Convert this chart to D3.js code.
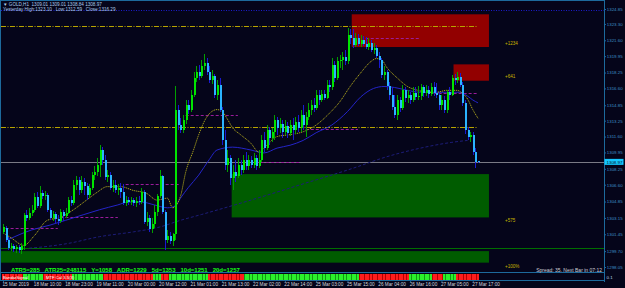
<!DOCTYPE html>
<html>
<head>
<meta charset="utf-8">
<script src="https://cdn.jsdelivr.net/npm/d3@7"></script>
<style>
  body { margin: 0; background: #05051a; overflow: hidden; }
  svg { display: block; }
  text { font-family: 'Liberation Sans', sans-serif; white-space: pre; }
</style>
</head>
<body>
<div id="container"></div>
<script>
const BG = '#05051a'
const FRAME = '#1d6a9c'
const BULL = '#00e400', BULL_WICK = '#00a000'
const BEAR = '#2bb4ff', BEAR_WICK = '#1a1ad0'

// GOLD H1, one value per bar (oldest first)
const opens = [1301.7,1302.1,1300.9,1300.0,1300.2,1299.9,1300.1,1299.8,1300.2,1303.5,
  1303.1,1303.7,1304.0,1305.3,1304.4,1305.7,1305.4,1305.5,1304.0,1303.1,
  1303.6,1303.0,1302.8,1303.8,1303.3,1303.7,1305.0,1304.7,1306.6,1307.1,
  1306.0,1306.9,1306.5,1305.5,1306.3,1307.6,1307.9,1308.6,1310.2,1309.2,
  1307.4,1307.6,1306.3,1306.6,1306.0,1306.3,1305.8,1304.7,1305.0,1304.8,
  1305.0,1304.7,1304.9,1304.8,1305.8,1302.7,1303.1,1302.0,1302.5,1303.8,
  1305.4,1307.5,1303.8,1300.9,1301.3,1300.7,1301.5,1314.4,1312.8,1312.3,
  1313.3,1314.9,1314.4,1315.9,1317.7,1318.3,1317.9,1318.9,1319.2,1318.3,
  1317.5,1317.9,1315.9,1317.0,1314.4,1311.2,1308.6,1309.4,1307.3,1307.9,
  1307.5,1308.6,1308.1,1309.2,1308.5,1309.2,1308.6,1309.4,1308.5,1309.2,
  1311.2,1310.4,1312.3,1311.4,1312.1,1313.3,1312.5,1312.9,1312.1,1312.7,
  1312.0,1312.8,1312.3,1313.1,1312.5,1313.8,1312.8,1313.6,1314.4,1314.9,
  1314.6,1315.9,1315.4,1316.0,1315.6,1317.0,1316.7,1319.0,1317.7,1319.4,
  1319.6,1319.9,1319.4,1322.2,1321.8,1321.1,1321.8,1321.2,1321.6,1321.2,
  1320.9,1321.3,1320.6,1320.8,1320.0,1319.6,1318.0,1318.3,1316.8,1315.9,
  1314.7,1313.8,1315.4,1314.6,1316.4,1315.6,1315.9,1315.4,1316.1,1315.7,
  1315.8,1316.7,1316.1,1316.4,1316.0,1316.7,1316.1,1315.9,1314.9,1315.4,
  1314.4,1316.2,1315.9,1317.7,1317.5,1317.8,1317.0,1315.1,1312.3,1311.6,
  1311.8,1310.0,1309.01]
const highs = [1302.5,1302.3,1301.2,1300.5,1300.4,1300.3,1300.3,1300.5,1303.7,1304.0,
  1304.2,1304.5,1305.7,1305.8,1306.5,1306.0,1305.9,1305.7,1304.2,1303.9,
  1303.8,1303.5,1304.1,1304.0,1304.2,1305.3,1305.4,1307.1,1307.5,1307.4,
  1307.5,1307.3,1306.8,1306.7,1307.9,1308.5,1309.4,1310.7,1310.5,1309.7,
  1308.1,1307.9,1307.1,1307.1,1306.7,1306.8,1306.7,1305.4,1305.3,1305.3,
  1305.2,1305.3,1305.4,1306.3,1306.0,1303.8,1303.5,1303.1,1304.5,1305.6,
  1308.1,1307.6,1304.0,1301.9,1301.7,1301.6,1316.8,1314.9,1313.5,1313.8,
  1315.4,1315.4,1316.4,1318.3,1318.9,1319.0,1319.6,1320.2,1319.8,1318.9,
  1318.5,1318.1,1317.5,1317.7,1314.7,1312.3,1310.2,1309.7,1308.6,1309.2,
  1309.4,1309.2,1309.7,1310.0,1309.7,1309.6,1309.9,1309.7,1310.2,1311.8,
  1312.1,1312.8,1312.6,1312.5,1313.8,1313.6,1313.5,1313.3,1313.3,1313.1,
  1313.3,1313.5,1313.6,1313.8,1314.4,1314.9,1314.2,1315.1,1315.4,1315.6,
  1316.4,1316.4,1316.4,1316.4,1317.5,1317.5,1319.8,1319.4,1319.9,1320.1,
  1320.4,1320.6,1322.9,1322.8,1322.8,1322.4,1322.3,1322.2,1322.0,1321.9,
  1321.8,1321.6,1321.3,1321.1,1320.4,1319.8,1318.9,1318.5,1317.3,1316.7,
  1315.9,1315.9,1315.7,1317.0,1316.7,1316.4,1316.2,1316.7,1316.7,1316.9,
  1317.1,1317.0,1317.0,1316.9,1317.2,1317.3,1317.2,1316.2,1315.9,1315.8,
  1316.4,1316.7,1318.0,1318.1,1318.3,1318.2,1317.3,1315.4,1312.6,1312.1,
  1312.1,1310.4,1309.01]
const lows = [1301.5,1300.6,1299.8,1299.7,1299.6,1299.5,1299.5,1299.4,1299.8,1302.8,
  1302.9,1303.3,1303.8,1304.2,1304.2,1305.1,1305.0,1303.8,1302.9,1302.8,
  1302.6,1302.4,1302.6,1302.8,1303.1,1303.6,1304.4,1304.5,1306.0,1305.5,
  1305.7,1305.5,1305.0,1305.2,1306.0,1307.1,1307.5,1307.4,1308.6,1307.1,
  1306.9,1306.0,1305.8,1305.7,1305.5,1305.2,1304.5,1304.4,1304.5,1304.5,
  1304.4,1304.3,1304.5,1304.6,1302.5,1302.3,1301.7,1301.6,1302.1,1303.3,
  1305.2,1303.6,1299.8,1300.5,1300.4,1300.2,1300.9,1312.3,1312.0,1312.0,
  1312.9,1313.9,1314.2,1315.7,1317.3,1317.5,1317.7,1318.5,1318.0,1317.2,
  1317.1,1315.6,1315.4,1314.2,1310.7,1308.1,1307.9,1306.6,1306.0,1306.9,
  1307.3,1307.6,1307.8,1308.1,1308.1,1308.3,1308.3,1308.1,1308.3,1309.0,
  1310.0,1310.2,1310.7,1311.0,1311.2,1311.8,1312.0,1311.4,1311.8,1311.4,
  1311.7,1311.2,1311.9,1312.1,1312.1,1312.3,1311.6,1313.3,1313.8,1314.2,
  1314.4,1314.9,1315.2,1315.4,1315.5,1316.2,1316.4,1317.3,1317.5,1318.7,
  1318.5,1319.0,1319.1,1321.2,1320.8,1320.9,1321.0,1320.9,1321.0,1320.7,
  1320.6,1320.4,1320.2,1319.8,1318.7,1317.7,1317.5,1316.4,1315.4,1314.4,
  1313.5,1313.3,1314.2,1314.4,1315.2,1315.1,1315.0,1315.2,1315.4,1315.4,
  1315.4,1315.7,1315.8,1315.6,1315.8,1315.8,1315.6,1314.4,1314.4,1314.0,
  1314.0,1315.4,1315.8,1317.0,1317.2,1316.7,1314.8,1311.9,1311.2,1311.0,
  1309.7,1308.3,1308.84]
const closes = [1302.2,1300.9,1300.0,1300.2,1299.9,1300.1,1299.8,1300.2,1303.5,1303.1,
  1303.7,1304.0,1305.3,1304.4,1305.7,1305.4,1305.5,1304.0,1303.1,1303.6,
  1303.0,1302.8,1303.8,1303.3,1303.7,1305.0,1304.7,1306.6,1307.1,1306.0,
  1306.9,1306.5,1305.5,1306.3,1307.6,1307.9,1308.6,1310.2,1309.2,1307.4,
  1307.6,1306.3,1306.6,1306.0,1306.3,1305.8,1304.7,1305.0,1304.8,1305.0,
  1304.7,1304.9,1304.8,1305.8,1302.7,1303.1,1302.0,1302.5,1303.8,1305.4,
  1307.5,1303.8,1300.9,1301.3,1300.7,1301.5,1314.4,1312.8,1312.3,1313.3,
  1314.9,1314.4,1315.9,1317.7,1318.3,1317.9,1318.9,1319.2,1318.3,1317.5,
  1317.9,1315.9,1317.0,1314.4,1311.2,1308.6,1309.4,1307.3,1307.9,1307.5,
  1308.6,1308.1,1309.2,1308.5,1309.2,1308.6,1309.4,1308.5,1309.2,1311.2,
  1310.4,1312.3,1311.4,1312.1,1313.3,1312.5,1312.9,1312.1,1312.7,1312.0,
  1312.8,1312.3,1313.1,1312.5,1313.8,1312.8,1313.6,1314.4,1314.9,1314.6,
  1315.9,1315.4,1316.0,1315.6,1317.0,1316.7,1319.0,1317.7,1319.4,1319.6,
  1319.9,1319.4,1322.2,1321.8,1321.1,1321.8,1321.2,1321.6,1321.2,1320.9,
  1321.3,1320.6,1320.8,1320.0,1319.6,1318.0,1318.3,1316.8,1315.9,1314.7,
  1313.8,1315.4,1314.6,1316.4,1315.6,1315.9,1315.4,1316.1,1315.7,1315.8,
  1316.7,1316.1,1316.4,1316.0,1316.7,1316.1,1315.9,1314.9,1315.4,1314.4,
  1316.2,1315.9,1317.7,1317.5,1317.8,1317.0,1315.1,1312.3,1311.6,1311.8,
  1310.0,1309.0,1308.97]

// moving averages at sample bars
const fastIdx = [0,3,8,12,17,22,27,32,36,40,45,50,55,59,63,65,68,70,73,75,78,80,82,84,86,88,91,95,98,100,
  105,110,115,120,125,129,133,137,141,143,145,147,151,155,159,163,166,170,174,176,178,180,182]
const fastVal = [1301.6,1301.1,1300.3,1301.3,1302.9,1303.2,1304.0,1305.0,1305.8,1306.4,1306.4,1306.0,1305.7,1305.0,1305.2,
  1304.2,1305.4,1307.9,1310.2,1311.8,1313.6,1314.2,1314.4,1314.2,1313.4,1312.5,1311.8,1310.9,1310.0,1310.4,
  1311.6,1311.8,1312.1,1312.8,1314.0,1315.2,1316.8,1318.2,1319.4,1319.7,1319.6,1318.8,1317.7,1316.8,1316.4,
  1316.2,1316.2,1316.4,1316.4,1316.1,1315.5,1314.4,1313.5]
const midIdx = [2,11,18,24,31,37,44,48,53,58,63,66,68,71,75,79,82,88,95,100,105,110,115,120,126,132,137,142,146,150,
  155,160,165,170,175,178,180,182]
const midVal = [1300.9,1301.9,1302.4,1302.9,1303.5,1304.0,1304.5,1304.8,1304.8,1304.5,1304.2,1304.4,1305.2,1306.3,1307.6,
  1309.2,1310.2,1310.5,1310.2,1309.9,1310.4,1310.7,1311.2,1312.0,1312.8,1314.2,1315.7,1316.6,1316.8,1316.7,
  1316.4,1316.2,1316.2,1316.2,1316.2,1315.8,1315.4,1315.1]
const slowIdx = [10,14,25,37,50,60,68,76,95,114,134,147,160,172,178]
const slowVal = [1300.0,1300.1,1300.5,1301.2,1301.7,1302.2,1302.9,1303.5,1305.0,1306.6,1308.3,1309.5,1310.4,1311.0,1311.2]

// daily pivot segments
const pivStart = [1,22,47,70,97,116,139,165]
const pivEnd = [21,44,68,90,114,136,160,182]
const pivLevel = [1302.1,1303.2,1306.7,1313.8,1309.0,1312.4,1321.8,1316.1]

// supply / demand zones
const zoneStart = [134,173,88,-1]
const zoneTop = [1324.3,1319.1,1307.7,1299.7]
const zoneBottom = [1320.9,1317.4,1303.2,1298.5]
const zoneKind = ['supply','supply','demand','demand']
const zoneText = ['+1234','+641','+575','+100%']

// horizontal levels
const yHigh = 1323.1, yLow = 1312.59, bid = 1308.97, adrLow = 1300.0, adrHigh = 1324.7

// sub window signal runs: [colour, bars]
const signalRuns = [['r',8],['g',8],['r',11],['g',12],['r',19],['g',3],['r',3],['g',15],['r',14],['g',44],
  ['r',19],['g',9],['r',4],['g',5],['r',9]]

const priceTicks = ['1324.85','1323.30','1321.60','1319.95','1318.25','1316.60','1314.85','1313.25','1311.60',
  '1309.95','1308.25','1306.60','1304.85','1303.15','1301.45','1299.70','1298.05']
const timeIdx = [0,12,24,36,48,60,72,84,96,108,120,132,144,156,168,180]
const timeLabels = ['15 Mar 2019','18 Mar 10:00','18 Mar 23:00','19 Mar 11:00','20 Mar 00:00','20 Mar 12:00',
  '21 Mar 01:00','21 Mar 13:00','22 Mar 02:00','22 Mar 14:00','25 Mar 03:00','25 Mar 15:00',
  '26 Mar 04:00','26 Mar 16:00','27 Mar 05:00','27 Mar 17:00']

const W = 625, H = 288
const AXIS_X = 604.5, MAIN_BOTTOM = 272.5, SUB_BOTTOM = 280.5

const svg = d3.select('#container').append('svg')
    .attr('width', W)
    .attr('height', H)
    .style('background', BG)

const x = d3.scaleLinear().domain([0, 182]).range([3, 478])
const y = d3.scaleLinear().domain([1298.05, 1324.85]).range([267, 9])

const main = svg.append('g')

// zones
zoneStart.forEach(function(s, i) {
    var x0 = Math.max(0, x(s) - 1)
    main.append('rect')
        .attr('x', x0)
        .attr('y', y(zoneTop[i]))
        .attr('width', x(186.2) - x0)
        .attr('height', y(zoneBottom[i]) - y(zoneTop[i]))
        .attr('fill', zoneKind[i] == 'supply' ? '#920000' : '#005c00')
    main.append('text')
        .attr('x', 505)
        .attr('y', zoneKind[i] == 'supply' ? y(zoneBottom[i]) - 2.5 : y(zoneBottom[i]) + 5)
        .attr('font-size', 4.6)
        .attr('fill', '#c8b400')
        .text(zoneText[i])
})

// horizontal levels
function hline(price, x1, x2, color, dash, w) {
    main.append('line')
        .attr('x1', x1).attr('x2', x2)
        .attr('y1', Math.round(y(price)) + 0.5).attr('y2', Math.round(y(price)) + 0.5)
        .attr('stroke', color)
        .attr('stroke-width', w || 1)
        .attr('stroke-dasharray', dash)
}
hline(adrHigh, 1, AXIS_X, '#1c1ccc', '1,1.5')
hline(yHigh, 1, 478, '#b8a400', '5,1.5,1,1.5')
hline(yLow, 1, 478, '#b8a400', '5,1.5,1,1.5')
hline(adrLow, 1, AXIS_X, '#006e00', null)
hline(bid, 1, AXIS_X, '#7a7a86', null)

pivLevel.forEach(function(p, i) {
    hline(p, x(pivStart[i]), x(pivEnd[i]), '#9a1c9a', '3,2')
})

// moving averages
const maLine = d3.line()
    .x(d => x(d[0]))
    .y(d => y(d[1]))
    .curve(d3.curveMonotoneX)

main.append('path')
    .attr('d', maLine(d3.zip(slowIdx, slowVal)))
    .attr('fill', 'none')
    .attr('stroke', '#1c1c78')
    .attr('stroke-width', 1)
    .attr('stroke-dasharray', '3,2')
main.append('path')
    .attr('d', maLine(d3.zip(midIdx, midVal)))
    .attr('fill', 'none')
    .attr('stroke', '#2424c8')
    .attr('stroke-width', 1)
main.append('path')
    .attr('d', maLine(d3.zip(fastIdx, fastVal)))
    .attr('fill', 'none')
    .attr('stroke', '#aca41c')
    .attr('stroke-width', 1)
    .attr('stroke-dasharray', '1.2,0.8')

// candles
const candles = main.append('g').attr('shape-rendering', 'crispEdges')
d3.range(opens.length).forEach(function(i) {
    var up = closes[i] >= opens[i]
    var cx = Math.round(x(i))
    candles.append('line')
        .attr('x1', cx + 0.5).attr('x2', cx + 0.5)
        .attr('y1', y(highs[i])).attr('y2', y(lows[i]))
        .attr('stroke', up ? BULL_WICK : BEAR_WICK)
    var top = y(Math.max(opens[i], closes[i]))
    var bot = y(Math.min(opens[i], closes[i]))
    candles.append('rect')
        .attr('x', cx - 0.5)
        .attr('y', top)
        .attr('width', 2)
        .attr('height', Math.max(1, bot - top))
        .attr('fill', up ? BULL : BEAR)
})

// frame
const frame = svg.append('g').attr('stroke', FRAME).attr('shape-rendering', 'crispEdges')
frame.append('line').attr('x1', 0.5).attr('x2', 0.5).attr('y1', 0).attr('y2', SUB_BOTTOM)
frame.append('line').attr('x1', 0).attr('x2', AXIS_X).attr('y1', 0.5).attr('y2', 0.5)
frame.append('line').attr('x1', AXIS_X).attr('x2', AXIS_X).attr('y1', 0).attr('y2', SUB_BOTTOM + 1)
frame.append('line').attr('x1', 0).attr('x2', AXIS_X).attr('y1', MAIN_BOTTOM).attr('y2', MAIN_BOTTOM)
frame.append('line').attr('x1', 0).attr('x2', AXIS_X).attr('y1', SUB_BOTTOM).attr('y2', SUB_BOTTOM)

// price axis
const yAxis = d3.axisRight(y)
    .tickValues(priceTicks.map(Number))
    .tickFormat((d, i) => priceTicks[i])
    .tickSize(1.5)
    .tickPadding(0.8)
const ya = svg.append('g')
    .attr('transform', 'translate(' + AXIS_X + ',0)')
    .call(yAxis)
ya.select('.domain').remove()
ya.selectAll('line').attr('stroke', FRAME)
ya.selectAll('text')
    .attr('fill', '#3d8fc8')
    .attr('font-size', 4.4)
    .attr('font-family', 'Liberation Sans')

// bid box
svg.append('rect')
    .attr('x', AXIS_X)
    .attr('y', y(bid) - 3)
    .attr('width', 19)
    .attr('height', 6)
    .attr('fill', '#14c8ff')
svg.append('text')
    .attr('x', AXIS_X + 2)
    .attr('y', y(bid) + 1.7)
    .attr('font-size', 4.4)
    .attr('fill', '#02121e')
    .text(bid.toFixed(2))

// time axis
const xAxis = d3.axisBottom(x)
    .tickValues(timeIdx)
    .tickFormat((d, i) => timeLabels[i])
    .tickSize(1.5)
    .tickPadding(0.8)
const xa = svg.append('g')
    .attr('transform', 'translate(0,' + SUB_BOTTOM + ')')
    .call(xAxis)
xa.select('.domain').remove()
xa.selectAll('line').attr('stroke', FRAME)
xa.selectAll('text')
    .attr('fill', '#d4d4dc')
    .attr('font-size', 4.7)
    .attr('font-family', 'Liberation Sans')
    .attr('text-anchor', 'start')
    .attr('dx', -1)

// signal sub window
const sub = svg.append('g').attr('shape-rendering', 'crispEdges')
var k = 0
signalRuns.forEach(function(run) {
    for (var j = 0; j < run[1]; j++) {
        sub.append('rect')
            .attr('x', x(k) - 1.3)
            .attr('y', 274)
            .attr('width', 2.61)
            .attr('height', 6)
            .attr('fill', run[0] == 'r' ? '#b80000' : '#109a10')
        sub.append('rect')
            .attr('x', x(k) - 1)
            .attr('y', 274)
            .attr('width', 2)
            .attr('height', 6)
            .attr('fill', run[0] == 'r' ? '#ff1c1c' : '#2cf02c')
        k++
    }
})
svg.append('text').attr('x', 3).attr('y', 279).attr('font-size', 4.2).attr('fill', '#ffffff').text('BandarSignal')
svg.append('text').attr('x', 46).attr('y', 279).attr('font-size', 4.2).attr('fill', '#ffffff').text('MTF Cal 3.5(3)')
svg.append('text').attr('x', AXIS_X + 2).attr('y', 279).attr('font-size', 4.4).attr('fill', '#bcd8ec').text('0.1')

// header
svg.append('text').attr('x', 3).attr('y', 5.5).attr('font-size', 4.6).attr('fill', '#aecbe8')
    .text('\u25BC GOLD,H1  1309.01 1309.01 1308.84 1308.97')
svg.append('text').attr('x', 3).attr('y', 10.5).attr('font-size', 4.6).attr('fill', '#aecbe8')
    .text('Yesterday High:1323.10   Low:1312.59   Close:1316.29')

// info lines
svg.append('text')
    .attr('x', 11).attr('y', 272)
    .attr('font-size', 6)
    .attr('font-weight', 'bold')
    .attr('fill', '#16ff16')
    .text('ATR5=285   ATR25=248115   Y=1058   ADR=1229   5d=1353   10d=1251   20d=1257')
svg.append('text')
    .attr('x', 602).attr('y', 272)
    .attr('text-anchor', 'end')
    .attr('font-size', 5)
    .attr('font-family', 'DejaVu Sans Mono')
    .attr('fill', '#d0d0d8')
    .text('Spread: 35. Next Bar in 07:12')
</script>
</body>
</html>
